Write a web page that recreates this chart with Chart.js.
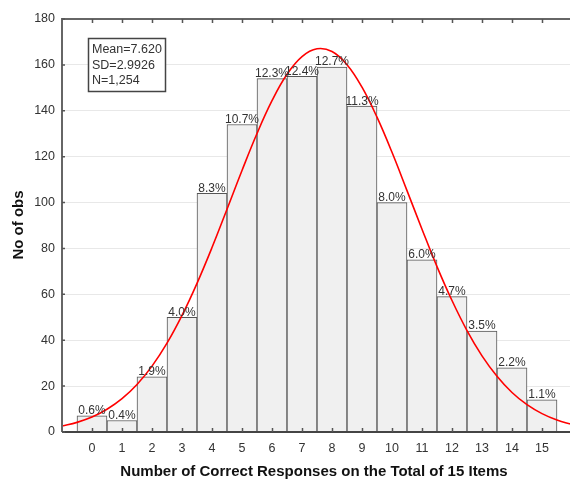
<!DOCTYPE html>
<html>
<head>
<meta charset="utf-8">
<script src="https://cdn.jsdelivr.net/npm/chart.js@4.4.1/dist/chart.umd.min.js"></script>
<style>
  html, body { margin: 0; padding: 0; background: #fff; overflow: hidden; }
  #wrap { width: 580px; height: 481px; }
</style>
</head>
<body>
<div id="wrap"><canvas id="histChart" width="580" height="481"></canvas></div>
<script>
// scores (number of correct responses) and counts
var scores = [0, 1, 2, 3, 4, 5, 6, 7, 8, 9, 10, 11, 12, 13, 14, 15];
var counts = [7, 5, 24, 50, 104, 134, 154, 155, 159, 142, 100, 75, 59, 44, 28, 14];
var pctLabels = ["0.6%", "0.4%", "1.9%", "4.0%", "8.3%", "10.7%", "12.3%", "12.4%",
                 "12.7%", "11.3%", "8.0%", "6.0%", "4.7%", "3.5%", "2.2%", "1.1%"];

// fitted normal curve
var curveX = [-1, -0.5, 0, 0.5, 1, 1.5, 2, 2.5, 3, 3.5, 4, 4.5, 5, 5.5, 6, 6.5, 7, 7.5,
              8, 8.5, 9, 9.5, 10, 10.5, 11, 11.5, 12, 12.5, 13, 13.5, 14, 14.5, 15, 15.5, 16];
var curveY = [2.6, 4.2, 6.5, 9.9, 14.5, 20.7, 28.7, 38.7, 50.8, 64.8, 80.4, 97.1, 114.0, 130.1,
              144.4, 155.9, 163.6, 167.0, 165.8, 160.1, 150.3, 137.2, 121.9, 105.2, 88.4, 72.1,
              57.3, 44.2, 33.2, 24.3, 17.2, 11.9, 8.0, 5.2, 3.3];

var statsLines = ["Mean=7.620", "SD=2.9926", "N=1,254"];
var yTicks = [0, 20, 40, 60, 80, 100, 120, 140, 160, 180];

var FONT = "'Liberation Sans', Arial, sans-serif";

var extras = {
  id: 'extras',
  afterDatasetsDraw: function(chart) {
    var ctx = chart.ctx, a = chart.chartArea;
    var xs = chart.scales.x;
    ctx.save();
    // axes and top border
    ctx.strokeStyle = '#666';
    ctx.lineWidth = 2;
    ctx.beginPath();
    ctx.moveTo(a.left, a.bottom);
    ctx.lineTo(a.left, a.top);
    ctx.lineTo(a.right, a.top);
    ctx.stroke();
    ctx.strokeStyle = '#444';
    ctx.beginPath();
    ctx.moveTo(a.left, a.bottom);
    ctx.lineTo(a.right, a.bottom);
    ctx.stroke();
    // inward tick marks
    ctx.strokeStyle = '#555';
    ctx.lineWidth = 1.5;
    ctx.beginPath();
    scores.forEach(function(s) {
      var px = Math.round(xs.getPixelForValue(s)) + 0.5;
      ctx.moveTo(px, a.top); ctx.lineTo(px, a.top + 4);
      ctx.moveTo(px, a.bottom); ctx.lineTo(px, a.bottom - 4);
    });
    yTicks.forEach(function(v) {
      var py = chart.scales.y.getPixelForValue(v);
      ctx.moveTo(a.left, py); ctx.lineTo(a.left + 3, py);
    });
    ctx.stroke();

    // percent labels
    var meta = chart.getDatasetMeta(1);
    ctx.fillStyle = '#333';
    ctx.font = '12px ' + FONT;
    ctx.textAlign = 'center';
    ctx.textBaseline = 'bottom';
    meta.data.forEach(function(bar, i) {
      ctx.fillText(pctLabels[i], bar.x, bar.y + 1);
    });

    // stats box
    ctx.fillStyle = '#fff';
    ctx.fillRect(88, 38, 78, 54);
    ctx.strokeStyle = '#444';
    ctx.lineWidth = 1.5;
    ctx.strokeRect(88.5, 38.5, 77, 53);
    ctx.fillStyle = '#333';
    ctx.font = '12.5px ' + FONT;
    ctx.textAlign = 'left';
    ctx.textBaseline = 'middle';
    statsLines.forEach(function(t, i) {
      ctx.fillText(t, 92, 50 + i * 15.5);
    });

    // axis titles
    ctx.fillStyle = '#111';
    ctx.font = 'bold 15px ' + FONT;
    ctx.textAlign = 'center';
    ctx.fillText('Number of Correct Responses on the Total of 15 Items', 314, 472);
    ctx.translate(19, 225);
    ctx.rotate(-Math.PI / 2);
    ctx.fillText('No of obs', 0, 0);
    ctx.restore();
  }
};

var ctxH = document.getElementById("histChart").getContext('2d');
var histChart = new Chart(ctxH, {
  data: {
    datasets: [{
      type: 'line',
      data: curveX.map(function(x, i) { return {x: x, y: curveY[i]}; }),
      borderColor: '#ff0000',
      borderWidth: 1.6,
      pointRadius: 0,
      tension: 0.4,
      fill: false
    }, {
      type: 'bar',
      data: scores.map(function(s, i) { return {x: s, y: counts[i]}; }),
      backgroundColor: '#f0f0f0',
      borderColor: '#555',
      borderWidth: 1,
      barPercentage: 1.0,
      categoryPercentage: 1.0
    }]
  },
  options: {
    responsive: false,
    animation: false,
    layout: { padding: { top: 19, right: 8, left: 0, bottom: 0 } },
    plugins: { legend: { display: false }, tooltip: { enabled: false } },
    scales: {
      x: {
        type: 'linear',
        min: -1,
        max: 16,
        offset: false,
        grid: { display: false },
        border: { display: false },
        afterFit: function(s) { s.height = 49; },
        ticks: {
          stepSize: 1,
          padding: 1,
          color: '#333',
          font: { size: 12.5, family: FONT },
          autoSkip: false,
          maxRotation: 0,
          callback: function(v) { return (v < 0 || v > 15) ? '' : v; }
        }
      },
      y: {
        min: 0,
        max: 180,
        grid: { color: '#e8e8e8', lineWidth: 1, drawTicks: false },
        border: { display: false },
        afterFit: function(s) { s.width = 62; },
        ticks: {
          stepSize: 20,
          padding: 7,
          color: '#333',
          font: { size: 12.5, family: FONT }
        }
      }
    }
  },
  plugins: [extras]
});
</script>
</body>
</html>
